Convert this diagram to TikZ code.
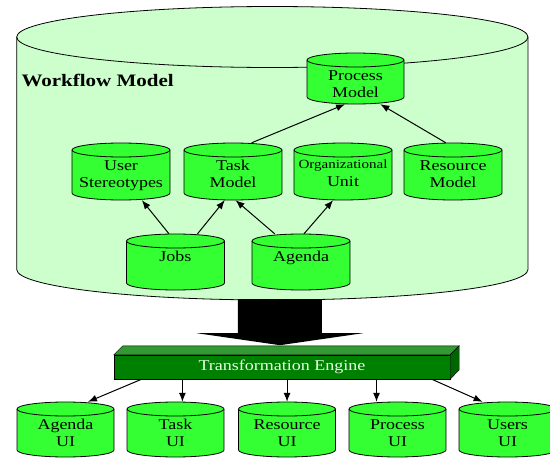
\documentclass[tikz,border=0pt]{standalone}
\usepackage{fontspec}
\setmainfont{Liberation Serif}[FakeStretch=1.2]
\usetikzlibrary{arrows.meta,calc}

\definecolor{wfback}{HTML}{CCFFCC}
\definecolor{dbgreen}{HTML}{33FF33}
\definecolor{enfront}{HTML}{008000}
\definecolor{entop}{HTML}{339933}
\definecolor{enside}{HTML}{006400}
\definecolor{entext}{HTML}{E6FFE6}

\newcommand{\dbcyl}[6]{%
  \draw [dbline,fill=dbgreen] (#2-#4/2,#3+7) -- (#2-#4/2,#3+#5-7) arc (180:0:#4/2 and 7)
    -- (#2+#4/2,#3+7) arc (0:-180:#4/2 and 7) -- cycle;
  \draw [dbline] (#2-#4/2,#3+7) arc (180:0:#4/2 and 7);
  \node (#1) at (#2,#3+#5/2) [dbbox,minimum width=#4pt,minimum height=#5pt] {};
  \node (#1text) at (#2,#3+17) [dbtext] {#6};}

\begin{document}
\begin{tikzpicture}[x=1pt,y=-1pt,
  >={Latex[length=9pt,width=7pt]},
  dbline/.style={line width=0.8pt},
  dbbox/.style={inner sep=0pt},
  dbtext/.style={anchor=north,align=center,inner sep=0pt,font=\fontsize{15}{17.3}\selectfont},
  arr/.style={->,line width=1pt}]

\useasboundingbox (0,0) rectangle (550,458);
\clip (0,0) rectangle (550,458);

\draw [dbline,fill=wfback] (16.7,37) -- (16.7,269.5) arc (180:0:255.65 and 30.5)
  -- (528,37) arc (0:-180:255.65 and 30.5) -- cycle;
\draw [dbline] (16.7,37) arc (180:0:255.65 and 30.5);
\node (wf) at (272.35,153.25) [dbbox,minimum width=511.3pt,minimum height=293.5pt] {};
\node (wftitle) at (18,86) [anchor=base west,font=\fontsize{17.5}{20}\selectfont\bfseries] {Workflow Model};

\fill (wf.south) ++(-34.4,-1) -- ++(84,0) -- ++(0,34) -- ++(41,0) -- ++(-83,12)
  -- ++(-83,-12) -- ++(41,0) -- cycle;

\node (engine) at (282,367) [draw,fill=enfront,minimum width=336pt,minimum height=24pt,
  inner sep=0pt,text=entext,font=\fontsize{15}{17}\selectfont] {Transformation Engine};
\draw [fill=entop] (engine.north west) -- ++(9,-9) -- ([shift={(9,-9)}]engine.north east)
  -- (engine.north east) -- cycle;
\draw [fill=enside] (engine.north east) -- ++(9,-9) -- ++(0,24) -- (engine.south east) -- cycle;

\dbcyl{process}{355.5}{53}{97}{51}{Process\\Model}

\dbcyl{user}{121}{143}{98}{57}{User\\Stereotypes}
\dbcyl{task}{233}{143}{98}{57}{Task\\Model}
\dbcyl{org}{343}{143}{98}{57}{{\fontsize{12.5}{14}\selectfont Organizational}\\Unit}
\dbcyl{resource}{453}{143}{98}{57}{Resource\\Model}

\dbcyl{jobs}{175.5}{234}{98}{56}{Jobs}
\dbcyl{agenda}{301}{234}{98}{56}{Agenda}

\dbcyl{agendaui}{65.5}{402}{97}{55}{Agenda\\UI}
\dbcyl{taskui}{175.5}{402}{97}{55}{Task\\UI}
\dbcyl{resourceui}{287}{402}{97}{55}{Resource\\UI}
\dbcyl{processui}{397.5}{402}{97}{55}{Process\\UI}
\dbcyl{usersui}{507.5}{402}{97}{55}{Users\\UI}

\draw [arr] (task.57) -- (process.248);
\draw [arr] (resource.104) -- (process.-46);

\draw [arr] (jobs.103) -- (user.-54);
\draw [arr] (jobs.52) -- (task.254);
\draw [arr] (agenda.133) -- (task.-85);
\draw [arr] (agenda.84) -- (org.-109);

\coordinate (e1) at ($(engine.south west)!0.083!(engine.south east)$);
\coordinate (e2) at ($(engine.south west)!0.204!(engine.south east)$);
\coordinate (e3) at ($(engine.south west)!0.515!(engine.south east)$);
\coordinate (e4) at ($(engine.south west)!0.781!(engine.south east)$);
\coordinate (e5) at ($(engine.south west)!0.945!(engine.south east)$);

\draw [arr] (e1) -- (agendaui.51);
\draw [arr] (e2) -- (e2 |- taskui.north);
\draw [arr] (e3) -- (e3 |- resourceui.north);
\draw [arr] (e4) -- (e4 |- processui.north);
\draw [arr] (e5) -- (usersui.132);

\end{tikzpicture}
\end{document}
